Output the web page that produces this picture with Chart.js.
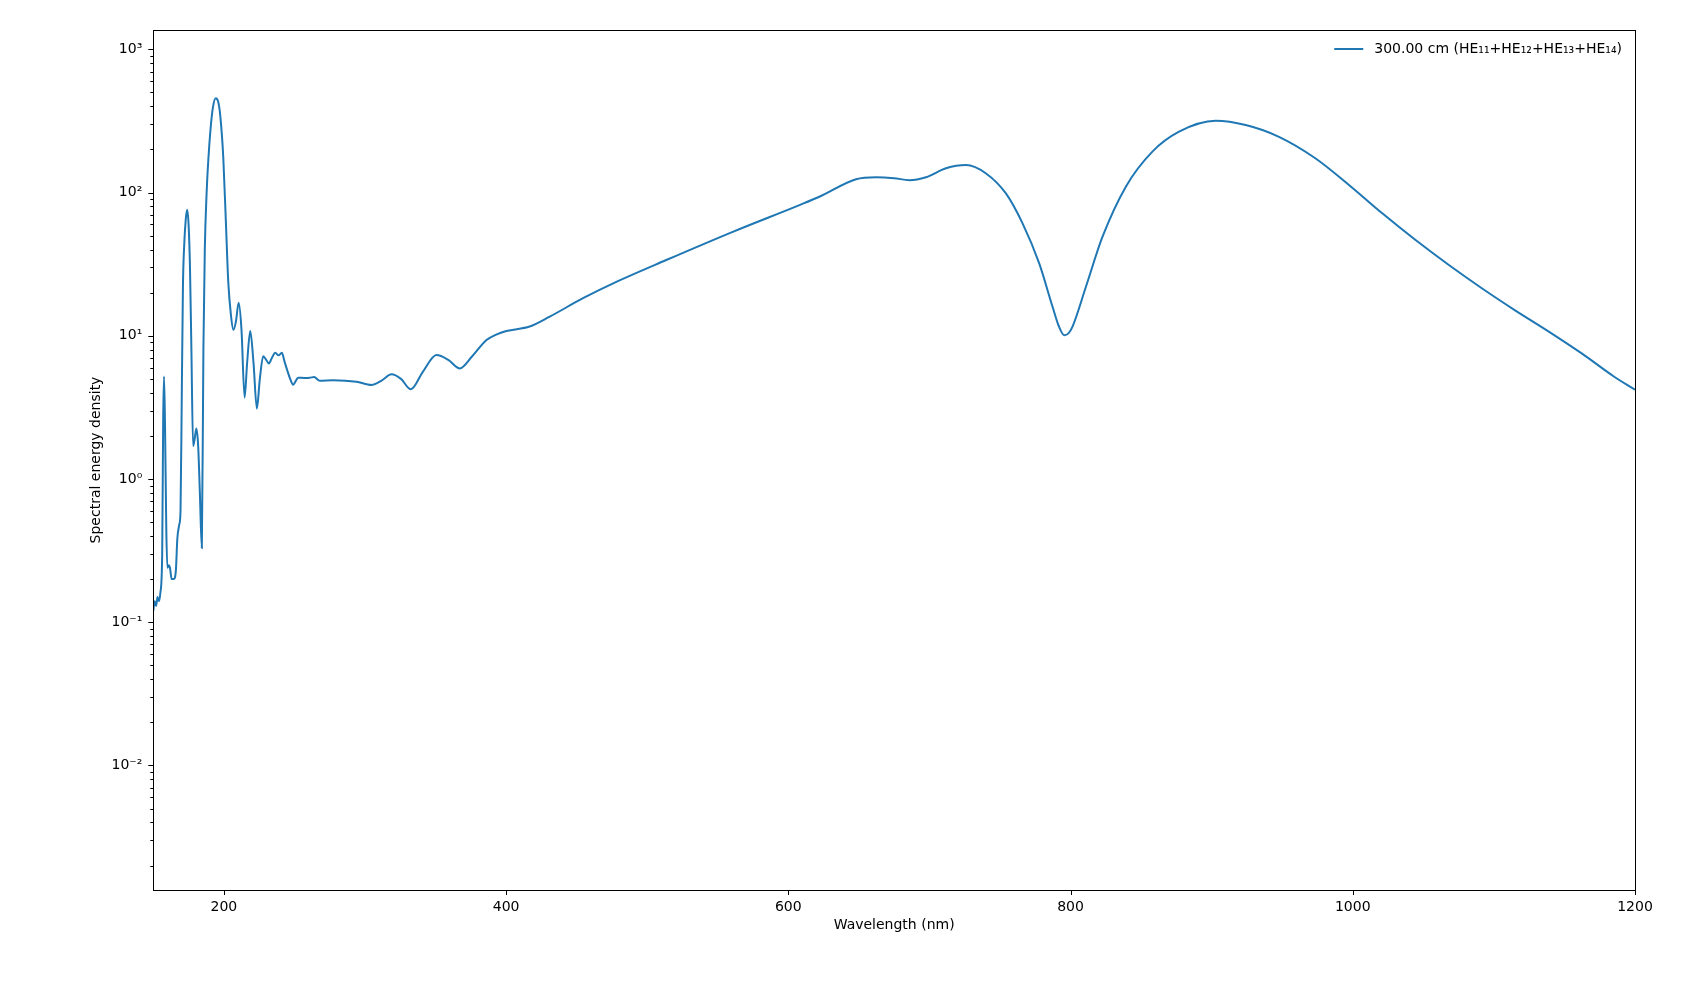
<!DOCTYPE html>
<html>
<head>
<meta charset="utf-8">
<script src="https://cdn.jsdelivr.net/npm/chart.js@4.4.1/dist/chart.umd.min.js"></script>
<style>
  html, body { margin: 0; padding: 0; background: #fff; }
  canvas { display: block; }
</style>
</head>
<body>
<canvas id="spectrum" width="1700" height="1007"></canvas>
<script>
// wavelength samples (nm)
const wavelength = [150, 151, 152, 153, 154, 155, 156.3, 157.0, 157.6, 158.3, 159.2, 160.0, 161.0, 161.8, 163.0, 164.5, 166.0, 167.0, 168.4, 169.3,
    170.2, 171.0, 172.0, 173.0, 174.0, 175.0, 176.0, 177.0, 178.2, 179.3, 180.5, 181.8, 183.0, 184.4, 185.5, 186.5, 187.8, 189.0, 190.6, 192.2,
    194.2, 196.0, 197.5, 199.6, 201.5, 203.1, 205.0, 206.8, 208.5, 210.5, 212.5, 214.7, 216.5, 218.7, 221.0, 223.4, 225.5, 227.9, 230.0, 231.9,
    234.0, 236.4, 238.8, 241.1, 243.0, 244.9, 247.0, 249.1, 251.0, 252.7, 257, 261, 264, 268, 277.4, 294, 304.6, 311.5, 318.8, 325.5,
    332.5, 341, 350.7, 359, 367.2, 376, 386.1, 393, 400.2, 416.7, 430.9, 454.5, 478.1, 513.5, 560.6, 607.9, 622, 648, 662.2, 675,
    685.8, 697.6, 711.7, 725.9, 740.1, 754.2, 766, 777.8, 787.2, 791.5, 795.5, 798.5, 801.4, 810.9, 822.6, 839.2, 858, 876.9, 902.9, 924.1,
    947.7, 973.7, 997.3, 1020.9, 1044.5, 1068.1, 1091.7, 1115.3, 1138.9, 1162.5, 1185, 1200];

// spectral energy density at each wavelength
const density = [0.12, 0.14, 0.13, 0.15, 0.14, 0.16, 0.3, 2.6, 5.2, 2.4, 0.45, 0.24, 0.25, 0.24, 0.20, 0.2, 0.23, 0.38, 0.48, 0.6,
    4, 22, 45, 65, 76, 60, 30, 8, 1.7, 1.9, 2.25, 1.7, 0.8, 0.33, 8, 40, 100, 170, 280, 390,
    455, 430, 340, 175, 60, 24, 14, 11, 12.5, 17, 11, 3.7, 6.5, 10.8, 6.5, 3.1, 5.0, 7.2, 6.8, 6.4,
    7.0, 7.6, 7.3, 7.6, 6.6, 5.75, 5.0, 4.55, 4.85, 5.1, 5.08, 5.1, 5.15, 4.85, 4.9, 4.78, 4.53, 4.85, 5.38, 5.0,
    4.23, 5.6, 7.33, 6.8, 5.92, 7.2, 9.33, 10.2, 10.8, 11.6, 13.6, 18.3, 23.8, 33.8, 53.2, 81.8, 93.5, 124, 128, 126,
    122, 128, 147.7, 155.6, 136, 98.6, 60.9, 32, 16, 11.8, 10.1, 10.4, 11.6, 22, 49, 110, 193, 266, 317, 296,
    245, 173, 113, 71.6, 46.6, 31.2, 21.4, 15.0, 10.7, 7.5, 5.2, 4.2];

const seriesLabel = '300.00 cm (HE₁₁+HE₁₂+HE₁₃+HE₁₄)';

const xTicks = [200, 400, 600, 800, 1000, 1200];
const yMajorTicks = [1e-2, 1e-1, 1, 10, 100, 1000];
const yTickLabels = ['10⁻²', '10⁻¹', '10⁰', '10¹', '10²', '10³'];

const X_MIN = 150, X_MAX = 1200;
const Y_MIN = 0.00135, Y_MAX = 1365;

const LINE_COLOR = '#1f77b4';

Chart.defaults.font.family = "'DejaVu Sans', sans-serif";
Chart.defaults.font.size = 14;
Chart.defaults.color = '#000';

function isMajor(v) {
    return yMajorTicks.some(m => Math.abs(v / m - 1) < 1e-9);
}

// log-axis minor ticks at 2..9 x 10^k inside the range
function logTicks() {
    const out = [];
    for (let k = -3; k <= 3; k++) {
        for (let m = 1; m <= 9; m++) {
            const v = m * Math.pow(10, k);
            if (v >= Y_MIN && v <= Y_MAX) out.push({ value: v, major: m === 1 });
        }
    }
    return out;
}

// frame, tick marks and the in-axes legend (matplotlib look)
const axesDecor = {
    id: 'axesDecor',
    afterDraw(chart) {
        const { ctx, chartArea: a, scales } = chart;
        ctx.save();
        ctx.strokeStyle = '#000';
        ctx.lineWidth = 1;

        ctx.beginPath();
        scales.y.ticks.forEach(t => {
            const y = Math.round(scales.y.getPixelForValue(t.value)) + 0.5;
            const len = isMajor(t.value) ? 5 : 3;
            ctx.moveTo(a.left - len, y);
            ctx.lineTo(a.left, y);
        });
        scales.x.ticks.forEach(t => {
            const x = Math.round(scales.x.getPixelForValue(t.value)) + 0.5;
            ctx.moveTo(x, a.bottom);
            ctx.lineTo(x, a.bottom + 5);
        });
        ctx.stroke();

        ctx.strokeRect(Math.round(a.left) + 0.5, Math.round(a.top) + 0.5,
            Math.round(a.right - a.left), Math.round(a.bottom - a.top));

        // legend, anchored to the upper right
        const ds = chart.data.datasets[0];
        ctx.font = "14px 'DejaVu Sans', sans-serif";
        ctx.textBaseline = 'middle';
        ctx.textAlign = 'left';
        const w = ctx.measureText(ds.label).width;
        const textRight = a.right - 13;
        const textLeft = textRight - w;
        const ly = a.top + 19;
        ctx.fillStyle = '#000';
        ctx.fillText(ds.label, textLeft, ly);
        ctx.strokeStyle = ds.borderColor;
        ctx.lineWidth = 2;
        ctx.beginPath();
        ctx.moveTo(textLeft - 40, ly);
        ctx.lineTo(textLeft - 11, ly);
        ctx.stroke();
        ctx.restore();
    }
};

new Chart(document.getElementById('spectrum').getContext('2d'), {
    type: 'line',
    data: {
        datasets: [{
            label: seriesLabel,
            data: wavelength.map((x, i) => ({ x: x, y: density[i] })),
            borderColor: LINE_COLOR,
            borderWidth: 2,
            pointRadius: 0,
            fill: false,
            cubicInterpolationMode: 'monotone'
        }]
    },
    options: {
        responsive: false,
        devicePixelRatio: 1,
        animation: false,
        layout: {
            padding: { left: 84, top: 30, right: 65, bottom: 69 }
        },
        plugins: {
            legend: { display: false },
            tooltip: { enabled: false }
        },
        scales: {
            x: {
                type: 'linear',
                min: X_MIN,
                max: X_MAX,
                afterBuildTicks: (scale) => {
                    scale.ticks = xTicks.map(v => ({ value: v }));
                },
                afterFit: (scale) => { scale.height = 48; },
                ticks: {
                    autoSkip: false,
                    maxRotation: 0,
                    padding: 9,
                    callback: (v) => String(v)
                },
                grid: { display: false, drawTicks: false },
                border: { display: false },
                title: {
                    display: true,
                    text: 'Wavelength (nm)',
                    padding: { top: 4, bottom: 4 }
                }
            },
            y: {
                type: 'logarithmic',
                min: Y_MIN,
                max: Y_MAX,
                afterBuildTicks: (scale) => {
                    scale.ticks = logTicks();
                },
                afterFit: (scale) => { scale.width = 69.3; },
                ticks: {
                    autoSkip: false,
                    padding: 11,
                    callback: (v) => {
                        const i = yMajorTicks.findIndex(m => Math.abs(v / m - 1) < 1e-9);
                        return i >= 0 ? yTickLabels[i] : '';
                    }
                },
                grid: { display: false, drawTicks: false },
                border: { display: false },
                title: {
                    display: true,
                    text: 'Spectral energy density',
                    padding: { top: 4, bottom: 4 }
                }
            }
        }
    },
    plugins: [axesDecor]
});
</script>
</body>
</html>
